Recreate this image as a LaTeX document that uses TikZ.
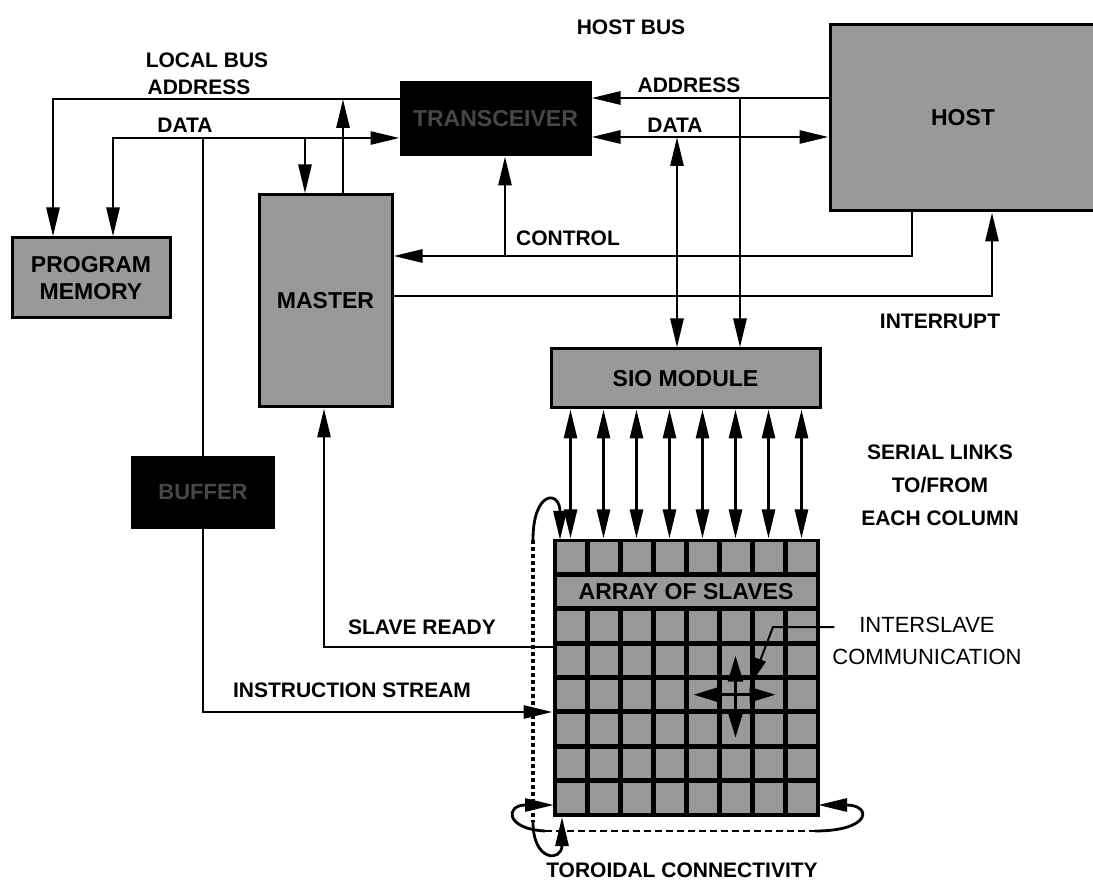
\documentclass[tikz,border=0pt]{standalone}
\usepackage{fontspec}
\setmainfont{Liberation Sans}
\usetikzlibrary{arrows.meta}

\begin{document}
\begin{tikzpicture}[x=1pt,y=-1pt,
  lbl/.style={font=\bfseries\fontsize{21}{33}\selectfont, inner sep=0pt, align=center},
  unit/.style={draw, line width=3pt, fill=black!40, inner sep=0pt, align=center,
    font=\bfseries\fontsize{23}{27}\selectfont},
  darkunit/.style={unit, fill=black, text=black!72},
  cell/.style={fill=black!40, minimum width=28pt, minimum height=29.5pt, inner sep=0pt},
  bus/.style={line width=2.8pt},
  arr/.style={bus, -{Triangle[length=29pt,width=13pt]}},
  arrs/.style={bus, {Triangle[length=29pt,width=13pt]}-{Triangle[length=29pt,width=13pt]}},
  star/.style={bus, -{Triangle[length=26pt,width=15pt]}},
  ptr/.style={line width=2pt, -{Triangle[length=24pt,width=11pt]}}]
  \useasboundingbox (0,0) rectangle (1093,882);

  % units
  \node[unit, minimum width=158pt, minimum height=80pt] (prog) at (91,278) {PROGRAM\\MEMORY};
  \node[unit, minimum width=133pt, minimum height=212pt] (master) at (325.5,301) {MASTER};
  \node[darkunit, minimum width=189pt, minimum height=72pt] (trans) at (495.5,119) {TRANSCEIVER};
  \node[unit, minimum width=266pt, minimum height=186pt] (host) at (963,118) {HOST};
  \node[unit, minimum width=269pt, minimum height=59pt] (sio) at (685.5,378.5) {SIO MODULE};
  \node[darkunit, minimum width=141pt, minimum height=69pt,
    font=\bfseries\fontsize{22}{26}\selectfont] (buffer) at (203,492.5) {BUFFER};

  % array of slaves
  \node[draw, line width=3pt, fill=black, minimum width=264pt, minimum height=275pt,
    inner sep=0pt] (array) at (686,677.5) {};
  \foreach \r in {0,2,3,4,5,6,7}
    \foreach \c in {0,...,7}
      \node[cell] (c\r\c) at ({570.5+33*\c},{557.2+34.375*\r}) {};
  \node[cell, minimum width=259pt, font=\bfseries\fontsize{23}{27}\selectfont]
    (banner) at (686,591.6) {ARRAY OF SLAVES};

  % labels
  \node[lbl] (lbus) at (207,60) {LOCAL BUS};
  \node[lbl] (hbus) at (631,27) {HOST BUS};
  \node[lbl] (addrl) at (199,87) {ADDRESS};
  \node[lbl] (datal) at (185,125) {DATA};
  \node[lbl] (addrr) at (689,85) {ADDRESS};
  \node[lbl] (datar) at (675,125) {DATA};
  \node[lbl] (ctrl) at (568,238) {CONTROL};
  \node[lbl] (intr) at (940,321) {INTERRUPT};
  \node[lbl] (serial) at (940,485) {SERIAL LINKS\\TO/FROM\\EACH COLUMN};
  \node[lbl] (ready) at (422,627) {SLAVE READY};
  \node[lbl] (instr) at (352,690) {INSTRUCTION STREAM};
  \node[lbl] (toro) at (682,870) {TOROIDAL CONNECTIVITY};
  \node[inner sep=0pt, align=center, font=\fontsize{22}{32}\selectfont]
    (isc) at (927,641) {INTERSLAVE\\COMMUNICATION};

  % local bus
  \coordinate (addrL) at (53,99);
  \coordinate (dataL) at (113,138);
  \coordinate (mA) at (343,99);
  \coordinate (mD) at (305,138);
  \coordinate (bD) at (203,138);
  \coordinate (iS) at (203,712);
  \coordinate (sR) at (324,647);
  \draw[arr] (trans.west |- addrL) -| (prog.north -| addrL);
  \draw[arrs] (prog.north -| dataL) |- (trans.west |- dataL);
  \draw[arr] (mD) -- (master.north -| mD);
  \draw[arr] (master.north -| mA) -- (mA);
  \draw[bus] (bD) -- (buffer.north);
  \draw[arr] (buffer.south) -- (iS) -- (array.west |- iS);
  \draw[arr] (array.west |- sR) -| (master.south -| sR);

  % host bus
  \coordinate (aH) at (740,98);
  \coordinate (dH) at (677,137);
  \coordinate (cH) at (912,256);
  \coordinate (cT) at (505,256);
  \coordinate (iH) at (992,296);
  \draw[arr] (host.west |- aH) -- (trans.east |- aH);
  \draw[arr] (aH) -- (sio.north -| aH);
  \draw[arrs] (trans.east |- dH) -- (host.west |- dH);
  \draw[arrs] (dH) -- (sio.north -| dH);
  \draw[arr] (host.south -| cH) |- (master.east |- cH);
  \draw[arr] (cT) -- (trans.south -| cT);
  \draw[arr] (master.east |- iH) -| (host.south -| iH);

  % serial links
  \foreach \c in {0,...,7}
    \draw[arrs] (sio.south -| c0\c) -- (array.north -| c0\c);

  % interslave
  \foreach \d in {(-42,0),(40,0),(0,-39),(0,43)}
    \draw[star] (c45.center) -- ++\d;
  \coordinate (pB) at (773,627);
  \coordinate (pT) at (752,682);
  \draw[ptr] ([xshift=2pt]isc.west |- pB) -- (pB) -- (pT);

  % toroidal connectivity
  \coordinate (tT) at (533,540);
  \coordinate (tB) at (533,822);
  \draw[line width=3.5pt, dash pattern=on 4pt off 3pt] (tT) -- (tB);
  \draw[arr] (tT) .. controls (533,490) and (560,490) .. (560,540);
  \draw[arr] (tB) .. controls (533,862) and (562,862) .. (562,817);
  \draw[bus, dash pattern=on 7pt off 4pt] (545,831) -- (815,831);
  \draw[arr] (545,831) .. controls (505,829) and (505,805) .. (554,805);
  \draw[arr] (815,831) .. controls (872,831) and (872,805) .. (818,805);
\end{tikzpicture}
\end{document}
